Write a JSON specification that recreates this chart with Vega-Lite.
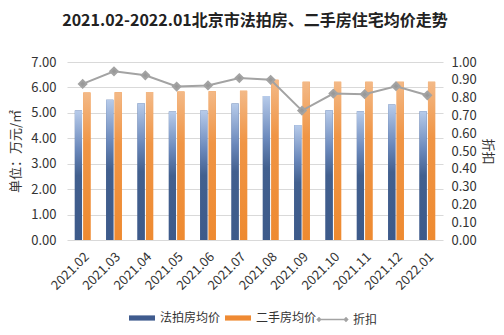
{
  "$schema": "https://vega.github.io/schema/vega-lite/v6.json",
  "width": 376,
  "height": 178,
  "autosize": {"type": "none"},
  "padding": {"left": 67, "top": 62, "right": 61, "bottom": 95},
  "background": "white",
  "title": {
    "text": "2021.02-2022.01北京市法拍房、二手房住宅均价走势",
    "fontSize": 16,
    "fontWeight": "bold",
    "color": "#222222",
    "anchor": "middle",
    "offset": 27
  },
  "config": {
    "font": "Noto Sans CJK SC",
    "view": {"stroke": null},
    "axis": {
      "labelFont": "Noto Sans CJK SC",
      "titleFont": "Noto Sans CJK SC",
      "labelColor": "#333333",
      "titleColor": "#333333",
      "labelFontSize": 13,
      "titleFontSize": 13,
      "titleFontWeight": "normal",
      "domain": false,
      "ticks": false
    },
    "legend": {
      "labelFont": "Noto Sans CJK SC",
      "labelFontSize": 12,
      "labelColor": "#333333"
    }
  },
  "data": {
    "values": [
      {"month": "2021.02", "法拍房均价": 5.09, "二手房均价": 5.80, "折扣": 0.877},
      {"month": "2021.03", "法拍房均价": 5.52, "二手房均价": 5.81, "折扣": 0.948},
      {"month": "2021.04", "法拍房均价": 5.38, "二手房均价": 5.82, "折扣": 0.925},
      {"month": "2021.05", "法拍房均价": 5.05, "二手房均价": 5.84, "折扣": 0.862},
      {"month": "2021.06", "法拍房均价": 5.09, "二手房均价": 5.85, "折扣": 0.868},
      {"month": "2021.07", "法拍房均价": 5.37, "二手房均价": 5.87, "折扣": 0.910},
      {"month": "2021.08", "法拍房均价": 5.66, "二手房均价": 6.30, "折扣": 0.900},
      {"month": "2021.09", "法拍房均价": 4.52, "二手房均价": 6.22, "折扣": 0.727},
      {"month": "2021.10", "法拍房均价": 5.10, "二手房均价": 6.22, "折扣": 0.823},
      {"month": "2021.11", "法拍房均价": 5.06, "二手房均价": 6.22, "折扣": 0.819},
      {"month": "2021.12", "法拍房均价": 5.33, "二手房均价": 6.22, "折扣": 0.864},
      {"month": "2022.01", "法拍房均价": 5.06, "二手房均价": 6.22, "折扣": 0.813}
    ]
  },
  "encoding": {
    "x": {
      "field": "month",
      "type": "ordinal",
      "sort": null,
      "scale": {"paddingInner": 0.5, "paddingOuter": 0.25},
      "axis": {"title": null, "labelAngle": -45, "labelFontSize": 13, "labelPadding": 10, "grid": false}
    }
  },
  "layer": [
    {
      "transform": [{"fold": ["法拍房均价", "二手房均价"], "as": ["series", "value"]}],
      "encoding": {
        "xOffset": {"field": "series", "type": "nominal", "sort": ["法拍房均价", "二手房均价"], "scale": {"paddingInner": 0.15}},
        "y": {
          "field": "value",
          "type": "quantitative",
          "scale": {"domain": [0, 7], "nice": false},
          "axis": {
            "title": "单位：万元/㎡",
            "orient": "left",
            "values": [0, 1, 2, 3, 4, 5, 6, 7],
            "format": ".2f",
            "grid": true,
            "gridColor": "#d9d9d9",
            "labelPadding": 11,
            "titlePadding": 8
          }
        }
      },
      "layer": [
        {
          "mark": {"type": "bar"},
          "encoding": {
            "fill": {
              "field": "series",
              "type": "nominal",
              "sort": ["法拍房均价", "二手房均价"],
              "scale": {"domain": ["法拍房均价", "二手房均价"], "range": ["#3f5b8e", "#ef8a33"]},
              "legend": {
                "title": null,
                "orient": "none",
                "direction": "horizontal",
                "legendX": 62,
                "legendY": 243,
                "symbolType": "M-1,-0.2H1V0.2H-1Z",
                "symbolSize": 676,
                "symbolStrokeWidth": 0,
                "columnPadding": 4,
                "labelOffset": 5
              }
            }
          }
        },
        {
          "mark": {"type": "bar"},
          "encoding": {
            "fill": {
              "condition": {
                "test": "datum.series === '法拍房均价'",
                "value": {
                  "gradient": "linear", "x1": 0, "y1": 0, "x2": 0, "y2": 1,
                  "stops": [
                    {"offset": 0, "color": "#b7cbea"},
                    {"offset": 0.3, "color": "#6a88bb"},
                    {"offset": 0.5, "color": "#42608f"},
                    {"offset": 1, "color": "#3d5a8a"}
                  ]
                }
              },
              "value": {
                "gradient": "linear", "x1": 0, "y1": 0, "x2": 0, "y2": 1,
                "stops": [
                  {"offset": 0, "color": "#f3b987"},
                  {"offset": 0.35, "color": "#f09545"},
                  {"offset": 1, "color": "#ee8a30"}
                ]
              }
            }
          }
        }
      ]
    },
    {
      "mark": {
        "type": "line",
        "strokeWidth": 2,
        "point": {"shape": "diamond", "filled": true, "size": 55, "color": "#999999"}
      },
      "encoding": {
        "y": {
          "field": "折扣",
          "type": "quantitative",
          "scale": {"domain": [0, 1], "nice": false},
          "axis": {
            "title": "折扣",
            "orient": "right",
            "values": [0, 0.1, 0.2, 0.3, 0.4, 0.5, 0.6, 0.7, 0.8, 0.9, 1.0],
            "format": ".2f",
            "grid": false,
            "labelPadding": 8,
            "titlePadding": 4
          }
        },
        "stroke": {
          "datum": "折扣",
          "scale": {"domain": ["折扣"], "range": ["#a3a3a3"]},
          "legend": {
            "title": null,
            "orient": "none",
            "legendX": 251,
            "legendY": 243,
            "symbolType": "M-1,0H1M-1.12,0L-1,-0.12L-0.88,0L-1,0.12ZM0.88,0L1,-0.12L1.12,0L1,0.12Z",
            "symbolSize": 729,
            "symbolStrokeWidth": 1.5,
            "symbolFillColor": "#a3a3a3",
            "labelOffset": 6
          }
        }
      }
    }
  ],
  "resolve": {"scale": {"y": "independent"}}
}
